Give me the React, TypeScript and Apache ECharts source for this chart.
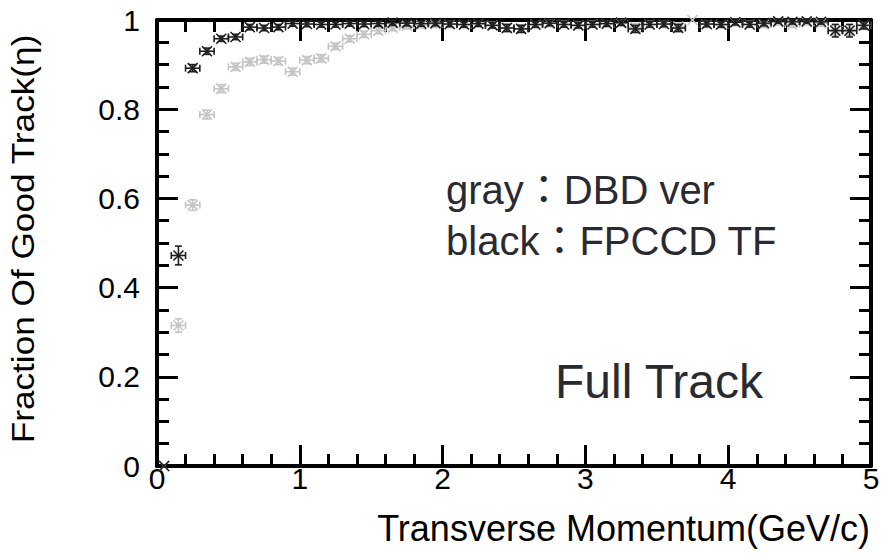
import React, { useEffect, useRef } from "react";
import * as echarts from "echarts";

// Bin centres of the transverse-momentum histogram (GeV/c)
const momentum = [
  0.05, 0.15, 0.25, 0.35, 0.45, 0.55, 0.65, 0.75, 0.85, 0.95,
  1.05, 1.15, 1.25, 1.35, 1.45, 1.55, 1.65, 1.75, 1.85, 1.95,
  2.05, 2.15, 2.25, 2.35, 2.45, 2.55, 2.65, 2.75, 2.85, 2.95,
  3.05, 3.15, 3.25, 3.35, 3.45, 3.55, 3.65, 3.75, 3.85, 3.95,
  4.05, 4.15, 4.25, 4.35, 4.45, 4.55, 4.65, 4.75, 4.85, 4.95,
];
const binHalfWidth = 0.05;

// gray : DBD ver
const dbdFraction = [
  0.0, 0.315, 0.585, 0.788, 0.846, 0.895, 0.906, 0.911, 0.908, 0.884,
  0.910, 0.914, 0.941, 0.958, 0.968, 0.976, 0.983, 0.987, 0.989, 0.990,
  0.990, 0.989, 0.991, 0.988, 0.983, 0.981, 0.989, 0.992, 0.990, 0.988,
  0.990, 0.991, 0.993, 0.984, 0.990, 0.990, 0.985, 1.0, 0.990, 0.989,
  0.994, 0.990, 0.990, 0.995, 0.990, 0.995, 0.993, 0.978, 0.978, 0.988,
];
const dbdError = [
  0, 0.015, 0.012, 0.01, 0.009, 0.008, 0.008, 0.008, 0.008, 0.008,
  0.008, 0.008, 0.007, 0.007, 0.007, 0.007, 0.007, 0.007, 0.007, 0.007,
  0.007, 0.007, 0.007, 0.007, 0.008, 0.008, 0.007, 0.007, 0.007, 0.007,
  0.007, 0.007, 0.007, 0.008, 0.007, 0.007, 0.008, 0, 0.007, 0.007,
  0.007, 0.007, 0.007, 0.006, 0.007, 0.006, 0.007, 0.012, 0.012, 0.008,
];

// black : FPCCD TF (empty bin at 3.75)
const fpccdFraction: (number | null)[] = [
  0.0, 0.472, 0.892, 0.930, 0.958, 0.962, 0.984, 0.982, 0.984, 0.992,
  0.991, 0.990, 0.990, 0.992, 0.991, 0.992, 0.994, 0.993, 0.992, 0.993,
  0.991, 0.990, 0.992, 0.988, 0.982, 0.980, 0.990, 0.993, 0.990, 0.988,
  0.990, 0.992, 0.994, 0.980, 0.990, 0.991, 0.982, null, 0.991, 0.990,
  0.995, 0.990, 0.993, 0.997, 0.996, 0.997, 0.996, 0.976, 0.976, 0.988,
];
const fpccdError = [
  0, 0.021, 0.008, 0.007, 0.006, 0.006, 0.006, 0.006, 0.006, 0.006,
  0.006, 0.006, 0.006, 0.006, 0.006, 0.006, 0.006, 0.006, 0.006, 0.006,
  0.006, 0.006, 0.006, 0.006, 0.008, 0.008, 0.006, 0.006, 0.006, 0.006,
  0.006, 0.006, 0.006, 0.008, 0.006, 0.006, 0.008, 0, 0.006, 0.006,
  0.006, 0.006, 0.006, 0.004, 0.005, 0.004, 0.005, 0.014, 0.014, 0.008,
];

const yTicks = [0, 0.2, 0.4, 0.6, 0.8, 1];

const FONT = "'Liberation Sans', Arial, Helvetica, sans-serif";
const TEXT_FONT = "'Liberation Sans', Arial, 'Noto Sans CJK JP', sans-serif";

function errorBarRenderer(color: string, lineWidth: number) {
  return (_params: any, api: any) => {
    const x = api.value(0);
    const y = api.value(1);
    const e = api.value(2);
    if (y == null || isNaN(y)) return null;
    const c = api.coord([x, y]);
    const style = { stroke: color, lineWidth, fill: "none" };
    const children: any[] = [];
    const seg = (x1: number, y1: number, x2: number, y2: number) =>
      children.push({ type: "line", shape: { x1, y1, x2, y2 }, style });
    const cap = 3.5;
    if (e > 0) {
      const l = api.coord([x - binHalfWidth, y]);
      const r = api.coord([x + binHalfWidth, y]);
      const t = api.coord([x, y + e]);
      const b = api.coord([x, y - e]);
      seg(l[0], c[1], r[0], c[1]);
      seg(l[0], c[1] - cap, l[0], c[1] + cap);
      seg(r[0], c[1] - cap, r[0], c[1] + cap);
      seg(c[0], t[1], c[0], b[1]);
      seg(c[0] - cap, t[1], c[0] + cap, t[1]);
      seg(c[0] - cap, b[1], c[0] + cap, b[1]);
    }
    const m = 5;
    seg(c[0] - m, c[1] - m, c[0] + m, c[1] + m);
    seg(c[0] - m, c[1] + m, c[0] + m, c[1] - m);
    return { type: "group", children };
  };
}

const tickStyle = { color: "#000", width: 3 };
const majorTick = { show: true, inside: true, length: 21, lineStyle: tickStyle };

export default function App() {
  const ref = useRef<HTMLDivElement>(null);

  useEffect(() => {
    if (!ref.current) return;
    const chart = echarts.init(ref.current, undefined, { renderer: "svg" });

    // Every side of the frame is an axis line; none of them sits on zero.
    const frameAxis = {
      type: "value" as const,
      axisLine: { show: true, onZero: false, lineStyle: { color: "#000", width: 4 } },
      splitLine: { show: false },
    };

    chart.setOption({
      animation: false,
      backgroundColor: "#fff",
      grid: { left: 157, right: 14, top: 20, bottom: 89, containLabel: false },
      xAxis: [
        {
          ...frameAxis,
          position: "bottom",
          min: 0,
          max: 5,
          interval: 1,
          axisTick: majorTick,
          minorTick: { show: true, splitNumber: 5, length: 12, lineStyle: tickStyle },
          axisLabel: { show: true, margin: -3, color: "#000", fontSize: 30, fontFamily: FONT },
        },
        {
          ...frameAxis,
          position: "top",
          min: 0,
          max: 5,
          interval: 1,
          axisTick: majorTick,
          minorTick: { show: true, splitNumber: 5, length: 12, lineStyle: tickStyle },
          axisLabel: { show: false },
        },
      ],
      yAxis: [
        {
          ...frameAxis,
          position: "left",
          min: 0,
          max: 1,
          interval: 0.2,
          axisTick: majorTick,
          minorTick: { show: true, splitNumber: 4, length: 12, lineStyle: tickStyle },
          axisLabel: {
            show: true,
            margin: 17,
            color: "#000",
            fontSize: 30,
            fontFamily: FONT,
            formatter: (v: number) => (yTicks.includes(+v.toFixed(1)) ? String(+v.toFixed(1)) : ""),
          },
        },
        {
          ...frameAxis,
          position: "right",
          min: 0,
          max: 1,
          interval: 0.2,
          axisTick: majorTick,
          minorTick: { show: true, splitNumber: 4, length: 12, lineStyle: tickStyle },
          axisLabel: { show: false },
        },
      ],
      series: [
        {
          name: "DBD ver",
          type: "custom",
          xAxisIndex: 0,
          yAxisIndex: 0,
          clip: false,
          z: 3,
          renderItem: errorBarRenderer("#c4c4c4", 1.6),
          data: momentum.map((p, i) => [p, dbdFraction[i], dbdError[i]]),
        },
        {
          name: "FPCCD TF",
          type: "custom",
          xAxisIndex: 0,
          yAxisIndex: 0,
          clip: false,
          z: 4,
          renderItem: errorBarRenderer("#1e1e1e", 1.6),
          data: momentum.map((p, i) => [p, fpccdFraction[i] ?? NaN, fpccdError[i]]),
        },
      ],
      graphic: [
        {
          type: "text",
          x: 23,
          y: 239,
          rotation: Math.PI / 2,
          scaleX: 1.1,
          style: {
            text: "Fraction Of Good Track(η)",
            fontSize: 32,
            fontFamily: FONT,
            fill: "#000",
            align: "center",
            verticalAlign: "middle",
          },
        },
        {
          type: "text",
          x: 870,
          y: 528,
          style: {
            text: "Transverse Momentum(GeV/c)",
            fontSize: 36,
            fontFamily: FONT,
            fill: "#000",
            align: "right",
            verticalAlign: "middle",
          },
        },
        {
          type: "text",
          x: 446,
          y: 190,
          style: {
            text: "gray：DBD ver",
            fontSize: 40,
            fontFamily: TEXT_FONT,
            fill: "#2a2a33",
            align: "left",
            verticalAlign: "middle",
          },
        },
        {
          type: "text",
          x: 446,
          y: 241,
          style: {
            text: "black：FPCCD TF",
            fontSize: 40,
            fontFamily: TEXT_FONT,
            fill: "#2a2a33",
            align: "left",
            verticalAlign: "middle",
          },
        },
        {
          type: "text",
          x: 555,
          y: 381,
          style: {
            text: "Full Track",
            fontSize: 48,
            fontFamily: TEXT_FONT,
            fill: "#2a2a33",
            align: "left",
            verticalAlign: "middle",
          },
        },
      ],
    });

    return () => chart.dispose();
  }, []);

  return <div ref={ref} style={{ width: 885, height: 555, position: "absolute", left: 0, top: 0 }} />;
}
